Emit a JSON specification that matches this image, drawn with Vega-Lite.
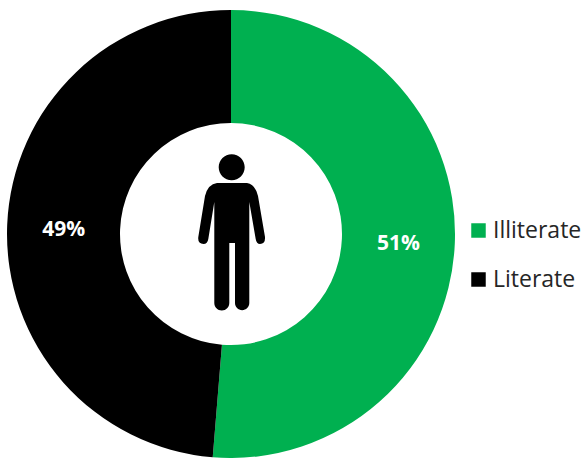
{"$schema":"https://vega.github.io/schema/vega-lite/v6.json","width":448,"height":448,"autosize":{"type":"none"},"padding":{"left":7,"top":10,"right":130,"bottom":0},"background":"white","view":{"stroke":null},"data":{"values":[{"status":"Illiterate","share":51.3,"label":"51%"},{"status":"Literate","share":48.7,"label":"49%"}]},"layer":[{"mark":{"type":"arc","innerRadius":111,"outerRadius":224},"encoding":{"theta":{"field":"share","type":"quantitative","stack":true},"color":{"field":"status","type":"nominal","scale":{"domain":["Illiterate","Literate"],"range":["#00B050","#000000"]},"legend":{"orient":"none","legendX":460,"legendY":209,"title":null,"symbolType":"square","symbolSize":210,"symbolStrokeWidth":0,"labelFontSize":23,"labelFont":"Open Sans","labelColor":"#262626","rowPadding":25,"labelOffset":3}}}},{"mark":{"type":"text","radius":167.5,"dy":3,"font":"Open Sans","fontSize":21,"fontWeight":"bold","color":"white"},"encoding":{"theta":{"field":"share","type":"quantitative","stack":true},"order":{"field":"status","sort":"ascending"},"detail":{"field":"status"},"text":{"field":"label"}}},{"data":{"values":[{"figure":"person"}]},"mark":{"type":"point","filled":true,"color":"black","opacity":1,"size":4,"shape":"M-14,-51 L16,-51 Q24,-50 27,-38 L34,3 Q34.5,10 29,10 Q25.5,10 24.7,5 L18.3,-32 L18.3,69 A7,7 0 0 1 4,69 L4,9 L-1.7,9 L-1.7,69 A7.5,7.5 0 0 1 -16.7,69 L-16.7,-32 L-22.7,5 Q-23.5,10 -27.5,10 Q-33.5,10 -32.7,3 L-26,-38 Q-23,-50 -14,-51 Z M-12.3,-66.7 A13,13 0 1 1 13.7,-66.7 A13,13 0 1 1 -12.3,-66.7 Z"},"encoding":{}}]}
